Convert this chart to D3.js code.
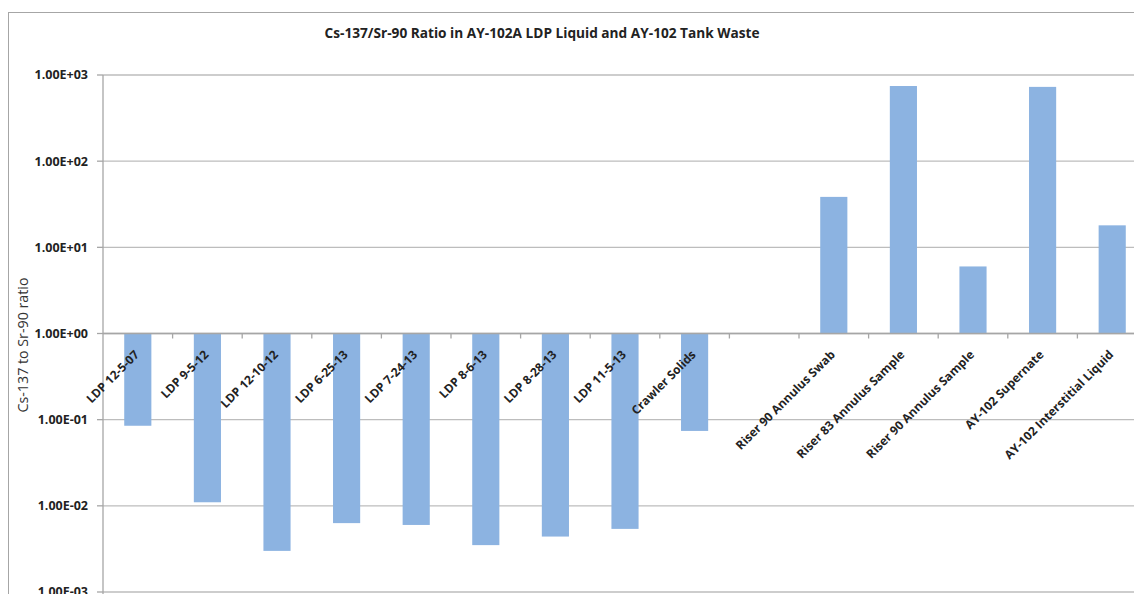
<!DOCTYPE html>
<html>
<head>
<meta charset="utf-8">
<script src="https://cdn.jsdelivr.net/npm/d3@7"></script>
<style>
  html, body { margin: 0; padding: 0; background: #fff; }
  svg { display: block; }
</style>
</head>
<body>
<svg id="chart" width="1134" height="594"></svg>
<script>
const categories = [
  "LDP 12-5-07", "LDP 9-5-12", "LDP 12-10-12", "LDP 6-25-13", "LDP 7-24-13",
  "LDP 8-6-13", "LDP 8-28-13", "LDP 11-5-13", "Crawler Solids", "",
  "Riser 90 Annulus Swab", "Riser 83 Annulus Sample", "Riser 90 Annulus Sample",
  "AY-102 Supernate", "AY-102 Interstitial Liquid"
];
const ratios = [
  0.085, 0.011, 0.0030, 0.0063, 0.0060,
  0.0035, 0.0044, 0.0054, 0.074, null,
  38.5, 745, 6.0, 728, 18
];
const yTicks = [1e3, 1e2, 1e1, 1e0, 1e-1, 1e-2, 1e-3];
const yTickLabels = ["1.00E+03", "1.00E+02", "1.00E+01", "1.00E+00", "1.00E-01", "1.00E-02", "1.00E-03"];
const title = "Cs-137/Sr-90 Ratio in AY-102A LDP Liquid and AY-102 Tank Waste";
const yTitle = "Cs-137 to Sr-90 ratio";

const svg = d3.select("#chart");
const font = "'Open Sans', 'Liberation Sans', sans-serif";

const plotLeft = 103, step = 69.6;
const plotRight = plotLeft + step * categories.length;
const yTop = 75, yBottom = 592;

const keys = categories.map((c, i) => i);
const x = d3.scaleBand().domain(keys).range([plotLeft, plotRight])
  .paddingInner(0.61).paddingOuter(0.305);
const y = d3.scaleLog().domain([1e-3, 1e3]).range([yBottom, yTop]);

// outer frame
svg.append("rect").attr("x", 8.5).attr("y", 12.5).attr("width", 1200).attr("height", 700)
  .attr("fill", "none").attr("stroke", "#a6a6a6").attr("stroke-width", 1);

// gridlines
svg.append("g").selectAll("line").data(yTicks).join("line")
  .attr("x1", plotLeft).attr("x2", plotRight)
  .attr("y1", d => y(d)).attr("y2", d => y(d))
  .attr("stroke", "#bdbdbd").attr("stroke-width", 1.3);

// bars
svg.append("g").selectAll("rect")
  .data(ratios.map((v, i) => ({ v, i })).filter(d => d.v != null))
  .join("rect")
  .attr("x", d => x(d.i))
  .attr("width", x.bandwidth())
  .attr("y", d => Math.min(y(d.v), y(1)))
  .attr("height", d => Math.abs(y(d.v) - y(1)))
  .attr("fill", "#8cb3e1");

// y axis line
svg.append("line").attr("x1", plotLeft).attr("x2", plotLeft)
  .attr("y1", yTop).attr("y2", yBottom + 4)
  .attr("stroke", "#a6a6a6").attr("stroke-width", 1.3);

// y ticks
svg.append("g").selectAll("line").data(yTicks).join("line")
  .attr("x1", plotLeft - 6).attr("x2", plotLeft)
  .attr("y1", d => y(d)).attr("y2", d => y(d))
  .attr("stroke", "#a6a6a6").attr("stroke-width", 1.3);

svg.append("g").selectAll("text").data(yTicks).join("text")
  .attr("x", 88).attr("y", d => y(d)).attr("dy", "0.35em")
  .attr("text-anchor", "end")
  .attr("font-family", font).attr("font-weight", "bold").attr("font-size", 12.5)
  .attr("fill", "#222")
  .text((d, i) => yTickLabels[i]);

// x axis at 1 (horizontal axis crossing) with ticks at band boundaries
svg.append("line").attr("x1", plotLeft).attr("x2", plotRight)
  .attr("y1", y(1)).attr("y2", y(1))
  .attr("stroke", "#a6a6a6").attr("stroke-width", 1.3);
svg.append("g").selectAll("line").data(keys.slice(1)).join("line")
  .attr("x1", d => x(d) - x.step() * x.paddingInner() / 2)
  .attr("x2", d => x(d) - x.step() * x.paddingInner() / 2)
  .attr("y1", y(1)).attr("y2", y(1) + 5)
  .attr("stroke", "#a6a6a6").attr("stroke-width", 1.3);

// category labels
svg.append("g").selectAll("text").data(keys).join("text")
  .attr("transform", d => `translate(${x(d) + x.bandwidth() / 2 - 1},${y(1) + 19}) rotate(-45)`)
  .attr("text-anchor", "end").attr("dy", "0.35em")
  .attr("font-family", font).attr("font-weight", "bold").attr("font-size", 12)
  .attr("fill", "#222")
  .text(d => categories[d]);

// title
svg.append("text").attr("x", 542).attr("y", 38).attr("text-anchor", "middle")
  .attr("font-family", font).attr("font-weight", "bold").attr("font-size", 14)
  .attr("textLength", 435).attr("lengthAdjust", "spacingAndGlyphs")
  .attr("fill", "#222").text(title);

// y title
svg.append("text").attr("transform", "translate(28,345) rotate(-90)")
  .attr("text-anchor", "middle")
  .attr("font-family", font).attr("font-size", 14)
  .attr("textLength", 135).attr("lengthAdjust", "spacingAndGlyphs")
  .attr("fill", "#333").text(yTitle);
</script>
</body>
</html>
